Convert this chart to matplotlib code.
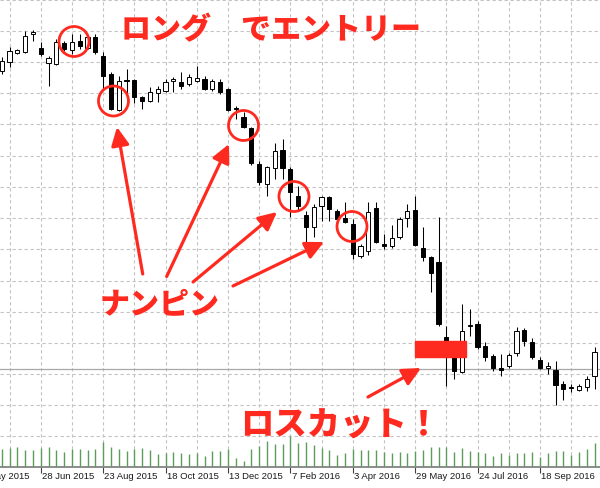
import numpy as np
import matplotlib
matplotlib.use("Agg")
import matplotlib.pyplot as plt
from matplotlib.patches import Ellipse, Rectangle

# ---- weekly GBP/JPY candles (open, high, low, close) ----
opens = [185.6, 187.4, 189.2, 189.4, 193.1, 190.2, 187.2, 187.0, 191.2, 189.8,
         191.6, 190.2, 192.4, 188.6, 185.0, 177.8, 183.7, 183.8, 180.4, 179.6,
         181.2, 181.6, 183.7, 183.4, 183.0, 183.6, 184.0, 182.0, 183.4, 182.0,
         178.1, 176.4, 174.2, 167.0, 163.0, 166.2, 169.8, 166.0, 160.6, 156.8,
         154.4, 158.6, 160.4, 157.6, 156.2, 155.0, 148.6, 149.6, 158.2, 151.0,
         150.6, 152.4, 156.2, 157.8, 150.2, 148.4, 147.4, 132.4, 128.4, 125.4,
         134.5, 135.0, 130.6, 128.6, 126.2, 126.6, 129.2, 133.8, 131.4, 127.8,
         126.2, 125.8, 123.0, 122.3, 121.8, 122.4, 124.6]
highs = [188.4, 190.4, 190.0, 193.6, 193.8, 191.4, 188.6, 192.0, 191.6, 193.0,
         193.0, 192.6, 193.0, 189.4, 185.4, 184.6, 186.0, 184.0, 180.6, 182.4,
         182.6, 184.0, 184.4, 185.4, 185.0, 186.6, 184.6, 184.0, 184.0, 182.2,
         178.6, 177.4, 174.4, 167.6, 166.6, 171.2, 172.0, 166.4, 162.6, 157.6,
         159.0, 160.6, 160.6, 158.0, 159.4, 156.0, 151.0, 159.4, 159.4, 153.0,
         154.8, 156.4, 159.0, 160.6, 154.4, 148.6, 156.4, 134.6, 130.0, 139.0,
         138.0, 135.6, 131.4, 129.0, 129.0, 129.2, 134.4, 134.2, 132.2, 128.4,
         127.4, 127.6, 123.6, 123.0, 123.0, 124.6, 130.4]
lows = [185.0, 186.4, 189.0, 189.2, 191.6, 188.6, 182.6, 186.8, 189.6, 189.0,
        190.0, 190.0, 189.0, 182.0, 177.8, 177.6, 180.6, 179.2, 178.0, 179.4,
        179.4, 181.4, 181.4, 182.0, 182.6, 183.4, 181.8, 181.6, 181.0, 177.6,
        176.0, 174.2, 166.8, 162.8, 160.6, 164.0, 164.0, 156.4, 157.6, 151.0,
        152.4, 155.6, 155.6, 155.2, 155.2, 148.0, 148.2, 148.8, 151.2, 150.0,
        150.2, 152.0, 154.4, 150.6, 147.6, 141.4, 134.6, 122.6, 124.0, 125.2,
        132.6, 130.0, 127.6, 125.6, 124.6, 126.2, 128.6, 130.6, 128.0, 126.0,
        125.0, 118.8, 119.8, 121.4, 121.6, 121.6, 122.0]
closes = [187.6, 189.6, 189.8, 192.6, 193.3, 189.0, 188.2, 191.4, 190.0, 191.4,
          190.6, 192.4, 189.4, 184.6, 178.0, 183.6, 183.5, 180.4, 179.6, 181.4,
          182.0, 183.4, 183.9, 182.6, 184.4, 184.2, 182.0, 183.6, 181.4, 177.8,
          177.9, 174.4, 167.2, 163.4, 166.4, 169.6, 166.2, 161.4, 158.6, 154.4,
          158.4, 160.4, 158.0, 156.0, 155.4, 149.0, 150.6, 157.4, 151.4, 150.6,
          152.2, 156.0, 157.6, 150.8, 148.4, 145.2, 135.0, 128.6, 125.6, 133.6,
          134.7, 130.4, 128.4, 126.2, 125.8, 128.8, 133.6, 131.6, 128.4, 126.2,
          126.6, 122.8, 122.0, 122.1, 122.6, 124.0, 129.4]
volumes = [18000, 18700, 20000, 17000, 17000, 19000, 20000, 17000, 15000, 18000,
           18000, 17000, 18000, 25300, 20000, 18000, 16000, 18000, 19000, 17000,
           13000, 14000, 15000, 14000, 13000, 14000, 11300, 16300, 16300, 18000,
           8700, 6300, 18000, 21300, 25700, 23000, 23000, 31300, 24000, 24700,
           22000, 18700, 17300, 12000, 14000, 18000, 17000, 17000, 17000, 15300,
           14000, 15300, 14000, 16300, 17000, 20300, 20300, 20300, 15300, 18700,
           16300, 14700, 14000, 11300, 13700, 12300, 14000, 14000, 14700, 9700,
           14000, 16300, 16300, 12300, 15300, 18000, 24000]

# date labels every 8 weeks (week index of each label)
date_labels = ["3 May 2015", "28 Jun 2015", "23 Aug 2015", "18 Oct 2015",
               "13 Dec 2015", "7 Feb 2016", "3 Apr 2016", "29 May 2016",
               "24 Jul 2016", "18 Sep 2016"]
label_weeks = [-3, 5, 13, 21, 29, 37, 45, 53, 61, 69]

price_line = 126.0

# trade annotations: averaging-down entries and the stop-out
entry_week, entry_price = 9.27, 191.5
nanpin_points = [(14.33, 179.6), (31.0, 174.7), (37.47, 160.5), (44.91, 154.5)]
stop_box = (53.0, 59.53, 128.4, 131.6)   # week from/to, price from/to

RED = "#ff2a1f"
JP = ["Noto Sans CJK JP", "DejaVu Sans"]

o = np.array(opens); h = np.array(highs); l = np.array(lows); c = np.array(closes)
x = np.arange(len(o))
up = c >= o

W, H, DPI = 600, 489, 100
fig = plt.figure(figsize=(W / DPI, H / DPI), dpi=DPI)
plot_h = 468
ax = fig.add_axes([0, (H - plot_h) / H, 1, plot_h / H])

px_w = 7.8                       # pixels per week
x0 = 1.7 / px_w
ax.set_xlim(-x0, (W - 1.7) / px_w)
ax.set_ylim(200 - plot_h * 0.2, 200)

# dashed grid
grid_kw = dict(color="#c4c4c4", lw=0.8, ls=(0, (3.0, 2.4)), zorder=0)
for gx in range(1, len(o), 4):
    ax.axvline(gx, **grid_kw)
for k in range(15):
    ax.axhline(200 - 0.2 * (0.7 + 31.2 * k), **grid_kw)

# current-price line
ax.axhline(price_line, color="#a8a8a8", lw=0.9, zorder=1)

# candles
ax.vlines(x, l, h, color="black", lw=0.75, zorder=2)
bottoms = np.minimum(o, c)
heights = np.abs(c - o)
ax.bar(x, heights, bottom=bottoms, width=0.55,
       color=np.where(up, "white", "black"), edgecolor="black",
       linewidth=0.7, zorder=3)

# volume histogram in the bottom strip
axv = ax.twinx()
axv.set_ylim(0, plot_h * 1000)
axv.vlines(x, 0, volumes, color="#5a9e5a", lw=1.0)
axv.set_axis_off()

# axes decoration
for s in ("top", "left", "right"):
    ax.spines[s].set_visible(False)
ax.spines["bottom"].set_color("#8c8c8c")
ax.spines["bottom"].set_linewidth(1.4)
ax.set_yticks([])
ax.set_xticks([w for w in label_weeks if w >= 0])
ax.set_xticklabels([])
ax.tick_params(axis="x", length=4, width=0.8, color="#404040", direction="out")
for w, lab in zip(label_weeks, date_labels):
    ax.annotate(lab, xy=(w, 0), xycoords=("data", "axes fraction"),
                xytext=(1, -2.8), textcoords="offset points",
                ha="left", va="top", fontsize=6.8, family="Liberation Sans",
                color="#1a1a1a", annotation_clip=False)

# circles around entries
def ring(cx, cy, r=15):
    ax.add_patch(Ellipse((cx, cy), 2 * r / px_w, 2 * r * 0.2, fill=False,
                         edgecolor=RED, lw=2.0, zorder=6))

ring(entry_week, entry_price)
for wk, pr in nanpin_points:
    ring(wk, pr)

# arrows from the labels to the entries
arrow_kw = dict(arrowstyle="-|>,head_length=0.55,head_width=0.27",
                color=RED, lw=2.3, shrinkA=0, shrinkB=0, mutation_scale=20)
arrows = [((18.08, 145.0), (14.78, 174.4)),
          ((21.15, 144.5), (29.14, 171.0)),
          ((24.53, 143.4), (35.3, 157.4)),
          ((29.65, 142.6), (41.32, 151.4)),
          ((46.96, 120.4), (53.76, 126.2))]
for tail, tip in arrows:
    ax.annotate("", xy=tip, xytext=tail, arrowprops=arrow_kw, zorder=7)

# stop-out marker
bx0, bx1, by0, by1 = stop_box
ax.add_patch(Rectangle((bx0, by0), bx1 - bx0, by1 - by0, color=RED, zorder=8))

txt_kw = dict(color=RED, family=JP, weight="heavy", ha="center", va="center",
              zorder=9)
ax.text(34.53, 194.0, "ロング\u3000でエントリー", fontsize=21.6, **txt_kw)
ax.text(20.29, 139.2, "ナンピン", fontsize=21.6, **txt_kw)
ax.text(43.37, 115.0, "ロスカット！", fontsize=24, **txt_kw)

fig.savefig("out.png", dpi=DPI)
